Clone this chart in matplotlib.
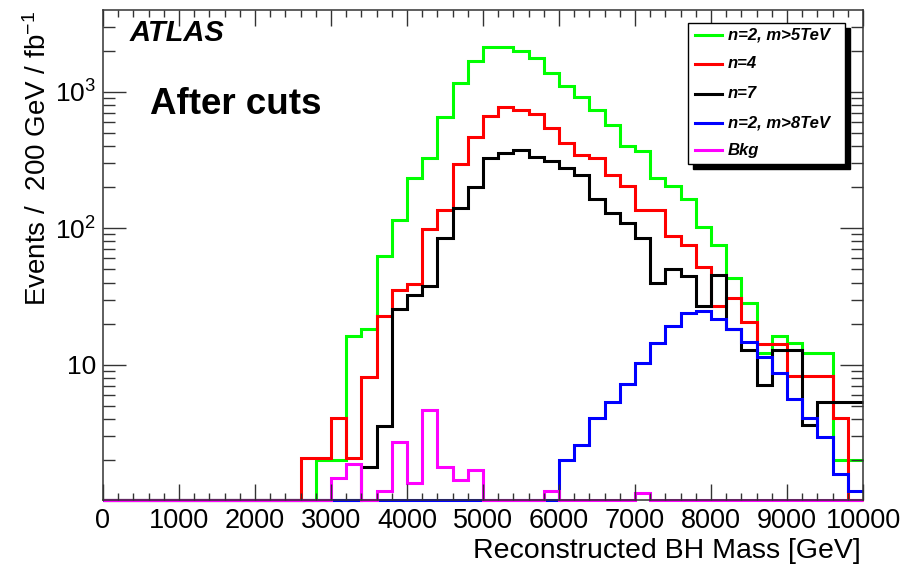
import numpy as np
import matplotlib
matplotlib.use('Agg')
import matplotlib.pyplot as plt
from matplotlib.patches import Rectangle
from matplotlib.lines import Line2D
from matplotlib.ticker import MultipleLocator, LogLocator, NullFormatter, FuncFormatter

plt.rcParams['font.family'] = ['Liberation Sans', 'DejaVu Sans']
plt.rcParams['mathtext.default'] = 'regular'

# 50 Bins zu je 200 GeV
bin_edges = np.arange(0, 10001, 200)

# Ereignisse pro Bin (Events / 200 GeV / fb^-1)
n2_m5 = [0] * 14 + [2.0, 2.0, 16.3, 18.3, 63, 115, 232, 325, 656, 1164, 1687, 2115,
                    2115, 1987, 1775, 1364, 1107, 910, 734, 570, 400, 368, 234, 204,
                    164, 102, 75, 43, 28.5, 12.1, 16.2, 14.4, 12.1, 12.1, 2.0, 2.0]
n4 = [0] * 13 + [2.06, 2.06, 4.1, 2.06, 8.1, 22.7, 35.2, 38.9, 98.6, 137, 295, 463,
                 667, 777, 734, 683, 539, 419, 344, 325, 245, 204, 137, 137, 88, 75.3,
                 51.7, 26.8, 31, 20.7, 14.2, 14.2, 8.2, 8.2, 8.2, 4.1, 0]
n7 = [0] * 17 + [1.79, 3.56, 25.5, 32.4, 37.8, 84.3, 140, 199, 329, 354, 374, 334,
                 311, 277, 245, 164, 128.5, 108.7, 84.3, 39.5, 50, 44.9, 27.1, 45.5,
                 18.3, 12.8, 7.1, 12.8, 12.8, 3.6, 5.35, 5.35, 5.35]
n2_m8 = [0] * 30 + [2.0, 2.58, 4.05, 5.35, 7.2, 10.3, 14.4, 19.2, 23.8, 24.9, 21.5,
                    18.3, 14.6, 11.4, 8.7, 5.58, 4.05, 2.94, 1.57, 1.19]
bkg = ([0] * 15 + [1.47, 1.87, 0, 1.19, 2.7, 1.35, 4.66, 1.79, 1.43, 1.69]
       + [0] * 4 + [1.19] + [0] * 5 + [1.14] + [0] * 14)

labels = ['n=2, m>5TeV', 'n=4', 'n=7', 'n=2, m>8TeV', 'Bkg']
colors = ['#00ff00', '#ff0000', '#000000', '#0000ff', '#ff00ff']
series = [n2_m5, n4, n7, n2_m8, bkg]

y_min, y_max = 1.02, 3970
W, H = 914, 565
frame_col = '#333333'


def fx(x):
    return x / W


def fy(y):
    return 1 - y / H


fig = plt.figure(figsize=(W / 100, H / 100), dpi=100)
ax = fig.add_axes([fx(103), fy(500), (863 - 103) / W, (500 - 10) / H])

# Leere Bins landen wie bei ROOT auf der unteren Rahmenlinie
for vals, col in zip(series, colors):
    vals = np.asarray(vals, dtype=float)
    shown = np.where(vals > 0, vals, y_min)
    ax.stairs(shown, bin_edges, baseline=None, color=col, lw=2.2, clip_on=False)

ax.set_xlim(0, 10000)
ax.set_yscale('log')
ax.set_ylim(y_min, y_max)

ax.xaxis.set_major_locator(MultipleLocator(1000))
ax.xaxis.set_minor_locator(MultipleLocator(200))
ax.yaxis.set_major_locator(LogLocator(base=10))
ax.yaxis.set_minor_locator(LogLocator(base=10, subs=range(2, 10)))
ax.yaxis.set_minor_formatter(NullFormatter())
ax.yaxis.set_major_formatter(FuncFormatter(
    lambda v, pos: '10' if round(np.log10(v)) == 1 else '$10^{%d}$' % round(np.log10(v))))

for s in ax.spines.values():
    s.set_color(frame_col)
    s.set_linewidth(1.1)

ax.tick_params(which='both', direction='in', top=True, right=True, color=frame_col, width=1.0)
ax.tick_params(axis='x', which='major', length=11.5, labelsize=19.5, pad=6)
ax.tick_params(axis='x', which='minor', length=5)
ax.tick_params(axis='y', which='major', length=16.5, labelsize=19, pad=5)
ax.tick_params(axis='y', which='minor', length=8.5)

# Achsentitel
fig.text(fx(861), fy(558), 'Reconstructed BH Mass [GeV]', fontsize=20.5,
         ha='right', va='baseline')
fig.text(fx(38), fy(11), 'Events /  200 GeV / fb$^{-1}$', fontsize=20,
         rotation=90, ha='center', va='top')

fig.text(fx(130), fy(40.7), 'ATLAS', fontsize=21, fontweight='bold',
         fontstyle='italic', ha='left', va='baseline')
fig.text(fx(150), fy(114.3), 'After cuts', fontsize=26.5, fontweight='bold',
         ha='left', va='baseline')

# Legende mit schwarzem Schatten
box_l, box_t, box_r, box_b = 688, 23, 845, 164
shadow = Rectangle((fx(box_l + 5), fy(box_b + 5)), (box_r - box_l) / W, (box_b - box_t) / H,
                   transform=fig.transFigure, facecolor='black', edgecolor='black', zorder=5)
frame = Rectangle((fx(box_l), fy(box_b)), (box_r - box_l) / W, (box_b - box_t) / H,
                  transform=fig.transFigure, facecolor='white', edgecolor='black',
                  lw=1.0, zorder=6)
fig.add_artist(shadow)
fig.add_artist(frame)

row_y = [35, 64, 94, 123, 150]
for yy, lab, col in zip(row_y, labels, colors):
    fig.add_artist(Line2D([fx(695), fx(722)], [fy(yy), fy(yy)], transform=fig.transFigure,
                          color=col, lw=2.2, zorder=7))
    fig.text(fx(728), fy(yy), lab, fontsize=12, fontweight='bold', fontstyle='italic',
             ha='left', va='center', zorder=7)

fig.savefig('out.png', dpi=100)
